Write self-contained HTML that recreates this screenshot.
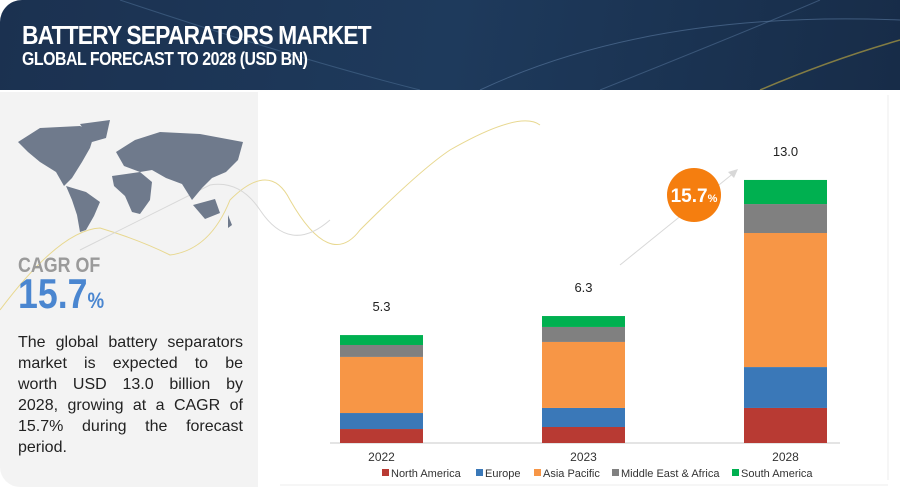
<!DOCTYPE html>
<html><head><meta charset="utf-8"><style>
body{margin:0;width:900px;height:487px;overflow:hidden;background:#fff;font-family:"Liberation Sans",sans-serif;position:relative}
#hdr{position:absolute;left:0;top:0;width:900px;height:90px;background:linear-gradient(100deg,#1b3150 0%,#1e3a5c 50%,#172c48 100%);border-top-left-radius:22px}
#t1{position:absolute;left:22px;top:20px;color:#fff;font-weight:bold;font-size:26px;letter-spacing:-1px;transform:scaleX(0.88);transform-origin:left}
#t2{position:absolute;left:22px;top:49px;color:#fff;font-weight:bold;font-size:18px;letter-spacing:-0.5px;transform:scaleX(0.88);transform-origin:left}
#left{position:absolute;left:0;top:92px;width:258px;height:395px;background:#f3f3f3;border-bottom-left-radius:20px}
#cagr{position:absolute;left:18px;top:254px;color:#9a9a9a;font-weight:bold;font-size:21px;transform:scaleX(0.85);transform-origin:left}
#big{position:absolute;left:18px;top:272px;color:#4a86d0;font-weight:bold;font-size:42px;transform:scaleX(0.85);transform-origin:left;line-height:44px}
#big span{font-size:22px}
#para{position:absolute;left:18px;top:332px;width:225px;font-size:16px;line-height:21px;color:#222}
#para div{text-align:justify;text-align-last:justify;white-space:nowrap;display:flex;justify-content:space-between}
#para div.last{display:block}
</style></head><body>
<div id="hdr">
<svg width="900" height="90" style="position:absolute;left:0;top:0">
<path d="M120,0 Q300,60 420,90" stroke="#4a6a90" stroke-width="1" fill="none" opacity="0.6"/>
<path d="M480,90 Q650,10 900,20" stroke="#5a7aa0" stroke-width="1" fill="none" opacity="0.6"/>
<path d="M600,90 Q750,30 820,0" stroke="#5a7aa0" stroke-width="1" fill="none" opacity="0.5"/>
<path d="M760,90 Q830,60 900,40" stroke="#c9b040" stroke-width="1.5" fill="none" opacity="0.6"/>
</svg>
<div id="t1">BATTERY SEPARATORS MARKET</div>
<div id="t2">GLOBAL FORECAST TO 2028 (USD BN)</div>
</div>
<div id="left"></div>
<svg width="900" height="487" style="position:absolute;left:0;top:0">
<path d="M0,310 Q60,230 100,228 Q140,240 170,255 Q210,250 230,200 Q270,160 290,200 Q330,270 360,230 Q420,170 450,150 Q520,110 540,125" stroke="#e8d890" stroke-width="1" fill="none"/>
<path d="M80,250 Q160,210 210,185 Q240,180 260,210 Q290,255 330,220" stroke="#d8d8d8" stroke-width="1" fill="none"/>
<g fill="#6f7a8c">
<path d="M18,142 L40,128 L80,126 L95,132 L90,148 L82,162 L72,178 L64,186 L56,172 L40,162 L28,152 Z"/>
<path d="M80,124 L110,120 L106,138 L92,142 Z"/>
<path d="M66,186 L86,192 L100,202 L94,216 L86,230 L80,232 L77,215 L72,200 Z"/>
<path d="M116,152 L135,140 L160,132 L200,134 L243,142 L238,160 L226,172 L212,178 L202,188 L192,200 L182,184 L166,178 L152,170 L140,172 L124,166 Z"/>
<path d="M112,176 L140,172 L152,182 L150,200 L140,214 L132,212 L125,196 L114,186 Z"/>
<path d="M193,205 L215,199 L220,213 L205,219 Z"/>
<path d="M228,215 L232,225 L228,228 Z"/>
</g>
</svg>
<div id="cagr">CAGR OF</div>
<div id="big">15.7<span>%</span></div>
<div id="para">
<div><span>The</span><span>global</span><span>battery</span><span>separators</span></div>
<div><span>market</span><span>is</span><span>expected</span><span>to</span><span>be</span></div>
<div><span>worth</span><span>USD</span><span>13.0</span><span>billion</span><span>by</span></div>
<div><span>2028,</span><span>growing</span><span>at</span><span>a</span><span>CAGR</span><span>of</span></div>
<div><span>15.7%</span><span>during</span><span>the</span><span>forecast</span></div>
<div class="last">period.</div>
</div>
<svg id="chart" width="900" height="487" style="position:absolute;left:0;top:0">
<line x1="888" y1="95" x2="888" y2="480" stroke="#eee"/>
<line x1="280" y1="485" x2="888" y2="485" stroke="#eee"/>
<line x1="330" y1="443" x2="840" y2="443" stroke="#e4e4e4" stroke-width="2"/>
<line x1="620" y1="265" x2="735" y2="172" stroke="#d8d8d8" stroke-width="1"/>
<polygon points="738,169 728,172 734,178" fill="#d8d8d8"/>
<circle cx="694" cy="195" r="27" fill="#f57e0f"/>
<text x="694" y="202" text-anchor="middle" fill="#fff" font-size="19" font-weight="bold" font-family="Liberation Sans">15.7<tspan font-size="11">%</tspan></text>
<g id="bars"></g>
<g id="legend"></g>
</svg>
<script>
const categories=["2022","2023","2028"];
const totals=["5.3","6.3","13.0"];
const northAmerica=[0.69,0.79,1.73];
const europe=[0.79,0.94,2.02];
const asiaPacific=[2.77,3.26,6.62];
const middleEastAfrica=[0.59,0.74,1.43];
const southAmerica=[0.49,0.54,1.19];
const seriesNames=["North America","Europe","Asia Pacific","Middle East & Africa","South America"];
const series=[northAmerica,europe,asiaPacific,middleEastAfrica,southAmerica];
const colors=["#b83a33","#3a78b8","#f79646","#808080","#00b050"];
const NS="http://www.w3.org/2000/svg";
const baseY=443,scale=20.25,x0=340,step=202,bw=83;
function xPos(i){return x0+i*step;}
function yLen(v){return v*scale;}
const g=document.getElementById('bars');
categories.forEach((c,i)=>{
  let y=baseY;
  series.forEach((s,k)=>{
    const h=yLen(s[i]);y-=h;
    const r=document.createElementNS(NS,'rect');
    r.setAttribute('x',xPos(i));r.setAttribute('y',y);r.setAttribute('width',bw);r.setAttribute('height',h);r.setAttribute('fill',colors[k]);
    
    
    g.appendChild(r);
  });
  const t=document.createElementNS(NS,'text');
  t.setAttribute('x',xPos(i)+bw/2);t.setAttribute('y',y-24);t.setAttribute('text-anchor','middle');t.setAttribute('font-size','13');t.setAttribute('fill','#222');t.setAttribute('font-family','Liberation Sans');
  t.textContent=totals[i];
  
  
  g.appendChild(t);
  const a=document.createElementNS(NS,'text');
  a.setAttribute('x',xPos(i)+bw/2);a.setAttribute('y',461);a.setAttribute('text-anchor','middle');a.setAttribute('font-size','12');a.setAttribute('fill','#333');a.setAttribute('font-family','Liberation Sans');
  a.textContent=c;
  
  
  g.appendChild(a);
});
const lg=document.getElementById('legend');
const lx=[382,476,534,612,732];
seriesNames.forEach((n,k)=>{
  const r=document.createElementNS(NS,'rect');
  r.setAttribute('x',lx[k]);r.setAttribute('y',469);r.setAttribute('width',7);r.setAttribute('height',7);r.setAttribute('fill',colors[k]);
  
  
  lg.appendChild(r);
  const t=document.createElementNS(NS,'text');
  t.setAttribute('x',lx[k]+9);t.setAttribute('y',477);t.setAttribute('font-size','11');t.setAttribute('fill','#333');t.setAttribute('font-family','Liberation Sans');
  t.textContent=n;
  
  
  lg.appendChild(t);
});
</script>
</body></html>
